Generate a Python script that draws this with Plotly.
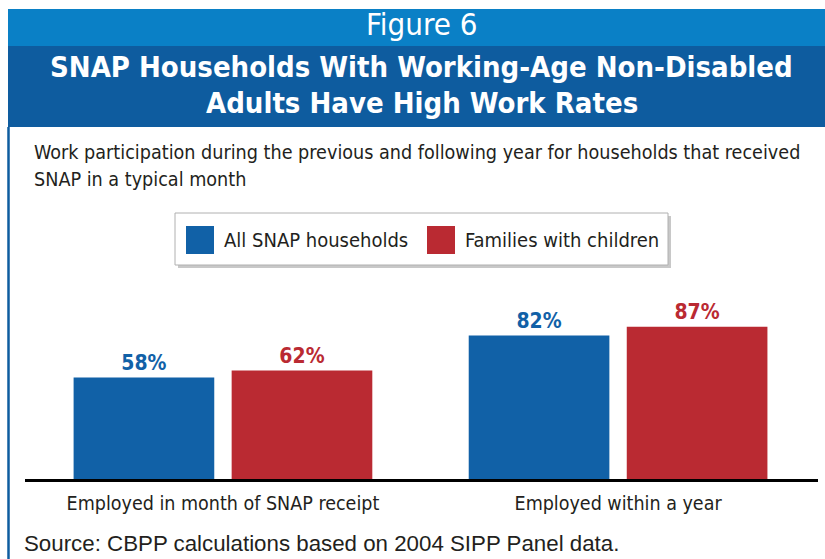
import plotly.graph_objects as go

# --- data -------------------------------------------------------------
categories = ["Employed in month of SNAP receipt", "Employed within a year"]
series_names = ["All SNAP households", "Families with children"]
all_snap_households = [58, 82]
families_with_children = [62, 87]

# --- styling ----------------------------------------------------------
W, H = 825, 559
BLUE = "#1161a7"
RED = "#ba2a32"
BAND_LIGHT = "#0a80c6"
BAND_DARK = "#0e5c9f"
TEXT = "#231f20"
NARROW = "DejaVu Sans Condensed, DejaVu Sans, sans-serif"


def px(x):
    return x / W


def py(y):
    return 1 - y / H


fig = go.Figure()
for name, vals, col in [(series_names[0], all_snap_households, BLUE),
                        (series_names[1], families_with_children, RED)]:
    fig.add_trace(go.Bar(
        x=categories, y=vals, name=name,
        marker=dict(color=col, line=dict(width=0)),
        text=[f"<b>{v}%</b>" for v in vals],
        textposition="outside",
        textfont=dict(family=NARROW, size=21, color=col),
        cliponaxis=False,
        showlegend=False,
    ))

shapes = []
annotations = []

# header bands
shapes.append(dict(type="rect", xref="paper", yref="paper",
                   x0=px(8), x1=px(W), y0=py(46), y1=py(9),
                   fillcolor=BAND_LIGHT, line=dict(width=0), layer="below"))
shapes.append(dict(type="rect", xref="paper", yref="paper",
                   x0=px(8), x1=px(W), y0=py(127), y1=py(46),
                   fillcolor=BAND_DARK, line=dict(width=0), layer="below"))
# left frame line
shapes.append(dict(type="line", xref="paper", yref="paper",
                   x0=px(8.5), x1=px(8.5), y0=py(127), y1=py(H),
                   line=dict(color=BAND_DARK, width=2.5)))

annotations.append(dict(text="Figure 6", xref="paper", yref="paper",
                        x=px(422), y=py(24), xanchor="center", yanchor="middle",
                        showarrow=False,
                        font=dict(family=NARROW, size=31, color="white")))
annotations.append(dict(text="<b>SNAP Households With Working-Age Non-Disabled</b>",
                        xref="paper", yref="paper",
                        x=px(422), y=py(67), xanchor="center", yanchor="middle",
                        showarrow=False,
                        font=dict(family=NARROW, size=29, color="white")))
annotations.append(dict(text="<b>Adults Have High Work Rates</b>",
                        xref="paper", yref="paper",
                        x=px(422), y=py(103), xanchor="center", yanchor="middle",
                        showarrow=False,
                        font=dict(family=NARROW, size=29, color="white")))

# subtitle
annotations.append(dict(text="Work participation during the previous and following year for households that received",
                        xref="paper", yref="paper",
                        x=px(32), y=py(152), xanchor="left", yanchor="middle",
                        showarrow=False,
                        font=dict(family=NARROW, size=19.6, color=TEXT)))
annotations.append(dict(text="SNAP in a typical month",
                        xref="paper", yref="paper",
                        x=px(32), y=py(179), xanchor="left", yanchor="middle",
                        showarrow=False,
                        font=dict(family=NARROW, size=19.6, color=TEXT)))

# legend box with a soft drop shadow
shapes.append(dict(type="rect", xref="paper", yref="paper",
                   x0=px(178), x1=px(671), y0=py(268), y1=py(216),
                   fillcolor="#c8c8c8", line=dict(width=0), layer="below"))
shapes.append(dict(type="rect", xref="paper", yref="paper",
                   x0=px(175), x1=px(668), y0=py(265), y1=py(213),
                   fillcolor="white", line=dict(color="#b0b0b0", width=1), layer="below"))
legend_items = [(series_names[0], BLUE, 186), (series_names[1], RED, 427)]
for name, col, x0 in legend_items:
    shapes.append(dict(type="rect", xref="paper", yref="paper",
                       x0=px(x0), x1=px(x0 + 28), y0=py(254), y1=py(226),
                       fillcolor=col, line=dict(width=0)))
    annotations.append(dict(text=name, xref="paper", yref="paper",
                            x=px(x0 + 36), y=py(240), xanchor="left", yanchor="middle",
                            showarrow=False,
                            font=dict(family=NARROW, size=20, color=TEXT)))

# source line
annotations.append(dict(text="Source: CBPP calculations based on 2004 SIPP Panel data.",
                        xref="paper", yref="paper",
                        x=px(22), y=py(543), xanchor="left", yanchor="middle",
                        showarrow=False,
                        font=dict(family="Liberation Sans, Arial, sans-serif", size=22.3, color=TEXT)))

fig.update_layout(
    width=W, height=H,
    margin=dict(l=0, r=0, t=0, b=0),
    paper_bgcolor="white", plot_bgcolor="white",
    barmode="group", bargap=0.2, bargroupgap=0.11,
    shapes=shapes, annotations=annotations,
    xaxis=dict(domain=[px(25), px(818)], range=[-0.501, 1.506],
               showline=True, linecolor="black", linewidth=3,
               showgrid=False, zeroline=False, ticks="",
               ticklabelstandoff=5,
               tickfont=dict(family=NARROW, size=19.5, color=TEXT)),
    yaxis=dict(domain=[1 - 479 / H, 1 - 300 / H], range=[0, 102.3],
               visible=False, showgrid=False, zeroline=False),
)

fig.write_html("out.html")
